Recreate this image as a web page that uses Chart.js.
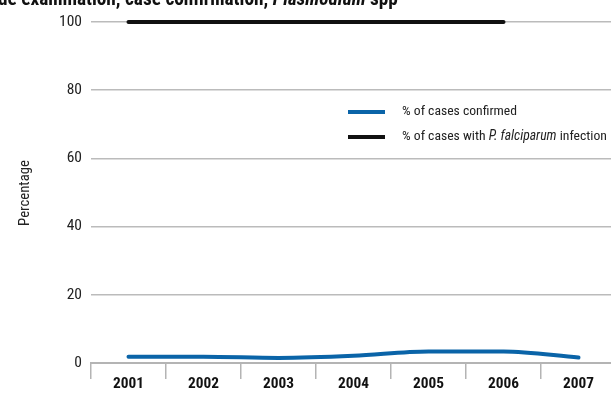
<!DOCTYPE html>
<html><head><meta charset="utf-8">
<script src="https://cdn.jsdelivr.net/npm/chart.js@4.4.0/dist/chart.umd.min.js"></script>
<style>
html,body{margin:0;padding:0;overflow:hidden;background:#fff;width:611px;height:394px}
#wrap{position:absolute;left:0;top:0;width:620px;height:394px}
</style>
</head><body><div id="wrap"><canvas id="c" width="620" height="394"></canvas></div>
<script>
const years = ['2001','2002','2003','2004','2005','2006','2007'];
const confirmedPct = [1.8, 1.8, 1.5, 2.1, 3.4, 3.4, 1.6];
const falciparumPct = [100, 100, 100, 100, 100, 100, null];
const yTicks = [0, 20, 40, 60, 80, 100];
const seriesNames = ['% of cases confirmed', '% of cases with P. falciparum infection'];
const legendSegments = [
  [['% of cases confirmed', false]],
  [['% of cases with ', false], ['P. falciparum', true], [' infection', false]]
];
const titleLead = 'Sli';
const titleSegments = [['de examination, case confirmation, ', false], ['Plasmodium', true], [' spp', false]];
const yTitle = 'Percentage';
const seriesColors = ['#0a64a8', '#111111'];

const FF = "'Roboto Condensed', 'DejaVu Sans Condensed', sans-serif";

// font sizing helpers (measure on a scratch canvas)
const mctx = document.createElement('canvas').getContext('2d');
function segWidth(segs, size, weight) {
  let w = 0;
  segs.forEach(([t, it]) => { mctx.font = (it ? 'italic ' : '') + (weight || '') + ' ' + size + 'px ' + FF; w += mctx.measureText(t).width; });
  return w;
}
function fit(segs, weight, target) { return 20 * target / segWidth(segs, 20, weight); }

const titleSize = fit(titleSegments, 'bold', 400);
const legendSize = fit(legendSegments[1], '', 205);
const yTitleSize = fit([[yTitle, false]], '', 66);
const xTickSize = fit([['2001', false]], 'bold', 31);
const yTickSize = fit([['100', false]], '', 23);

const overlay = {
  id: 'overlay',
  afterDraw(chart) {
    const ctx = chart.ctx;
    ctx.save();
    // title (cut by the top/left edge as in the source)
    ctx.fillStyle = '#111';
    ctx.textBaseline = 'alphabetic';
    ctx.font = 'bold ' + titleSize + 'px ' + FF;
    let x = -2 - ctx.measureText(titleLead).width;
    ctx.fillText(titleLead, x, 5);
    x += ctx.measureText(titleLead).width;
    titleSegments.forEach(([t, it]) => {
      ctx.font = (it ? 'italic ' : '') + 'bold ' + titleSize + 'px ' + FF;
      ctx.fillText(t, x, 5);
      x += ctx.measureText(t).width;
    });
    // y title
    ctx.save();
    ctx.translate(25, 193);
    ctx.rotate(-Math.PI / 2);
    ctx.font = yTitleSize + 'px ' + FF;
    ctx.fillStyle = '#222';
    ctx.textAlign = 'center';
    ctx.textBaseline = 'middle';
    ctx.fillText(yTitle, 0, 0);
    ctx.restore();
    // legend
    const rows = [112, 137];
    legendSegments.forEach((segs, i) => {
      const y = rows[i];
      ctx.strokeStyle = seriesColors[i];
      ctx.lineWidth = 4;
      ctx.lineCap = 'butt';
      ctx.beginPath();
      ctx.moveTo(348, y);
      ctx.lineTo(385, y);
      ctx.stroke();
      let lx = 402;
      ctx.fillStyle = '#222';
      ctx.textBaseline = 'middle';
      segs.forEach(([t, it]) => {
        ctx.font = (it ? 'italic ' : '') + legendSize + 'px ' + FF;
        ctx.fillText(t, lx, y);
        lx += ctx.measureText(t).width;
      });
    });
    ctx.restore();
  }
};

new Chart(document.getElementById('c'), {
  type: 'line',
  data: {
    labels: years,
    datasets: [
      {
        label: seriesNames[0], data: confirmedPct, borderColor: seriesColors[0], backgroundColor: seriesColors[0],
        borderWidth: 4, pointRadius: 0, cubicInterpolationMode: 'monotone', borderCapStyle: 'round', spanGaps: false, clip: false
      },
      {
        label: seriesNames[1], data: falciparumPct, borderColor: seriesColors[1], backgroundColor: seriesColors[1],
        borderWidth: 4, pointRadius: 0, borderCapStyle: 'round', spanGaps: false, clip: false
      }
    ]
  },
  options: {
    responsive: false,
    animation: false,
    layout: { padding: { top: 22, right: 4, bottom: 0, left: 0 } },
    plugins: { legend: { display: false }, title: { display: false }, tooltip: { enabled: false } },
    scales: {
      x: {
        type: 'category',
        offset: true,
        grid: { offset: true, drawOnChartArea: false, drawTicks: true, tickLength: 16, color: '#b4b4b4', lineWidth: 1.5 },
        border: { display: true, color: '#b4b4b4', width: 2 },
        ticks: { font: { family: FF, size: xTickSize, weight: 'bold' }, color: '#111', padding: -4, maxRotation: 0, autoSkip: false },
        afterFit(s) { s.height = 31; }
      },
      y: {
        min: 0, max: 100,
        afterBuildTicks(s) { s.ticks = yTicks.map(v => ({ value: v })); },
        grid: { color: '#bbb', lineWidth: 1.5, drawTicks: false },
        border: { display: false },
        ticks: { font: { family: FF, size: yTickSize }, color: '#222', padding: 9 },
        afterFit(s) { s.width = 91; }
      }
    }
  },
  plugins: [overlay]
});
</script>
</body></html>
